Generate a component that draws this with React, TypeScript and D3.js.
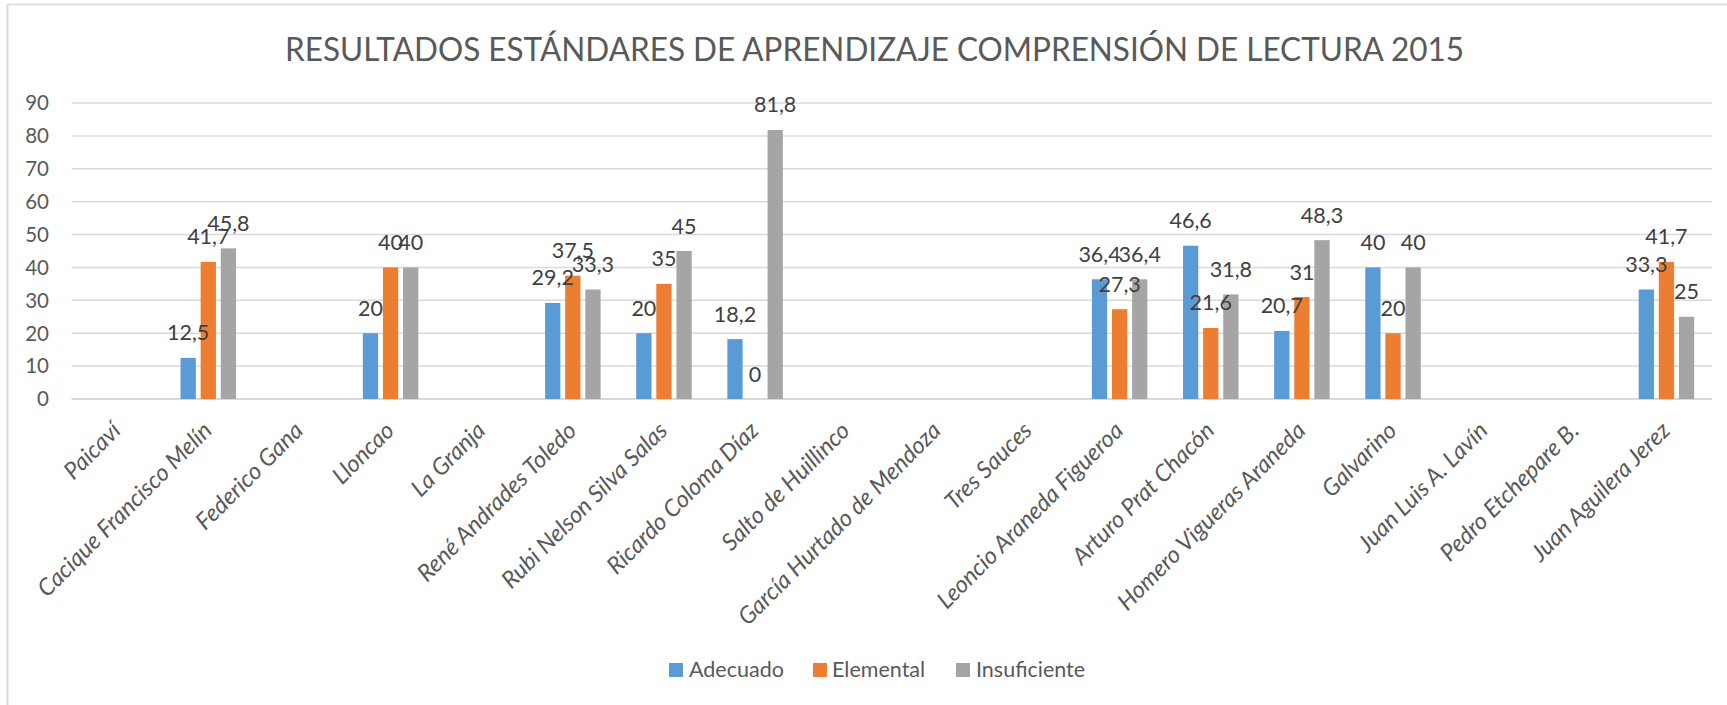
import React from "react";
import * as d3 from "d3";

const categories = [
  "Paicaví",
  "Cacique Francisco Melín",
  "Federico Gana",
  "Lloncao",
  "La Granja",
  "René Andrades Toledo",
  "Rubi Nelson Silva Salas",
  "Ricardo Coloma Díaz",
  "Salto de Huillinco",
  "García Hurtado de Mendoza",
  "Tres Sauces",
  "Leoncio Araneda Figueroa",
  "Arturo Prat Chacón",
  "Homero Vigueras Araneda",
  "Galvarino",
  "Juan Luis A. Lavín",
  "Pedro Etchepare B.",
  "Juan Aguilera Jerez",
];

const seriesNames = ["Adecuado", "Elemental", "Insuficiente"];
const adecuado = [null, 12.5, null, 20, null, 29.2, 20, 18.2, null, null, null, 36.4, 46.6, 20.7, 40, null, null, 33.3];
const elemental = [null, 41.7, null, 40, null, 37.5, 35, 0, null, null, null, 27.3, 21.6, 31, 20, null, null, 41.7];
const insuficiente = [null, 45.8, null, 40, null, 33.3, 45, 81.8, null, null, null, 36.4, 31.8, 48.3, 40, null, null, 25];
const yTicks = [0, 10, 20, 30, 40, 50, 60, 70, 80, 90];
const title = "RESULTADOS ESTÁNDARES DE APRENDIZAJE COMPRENSIÓN DE LECTURA 2015";

const colors = ["#5B9BD5", "#ED7D31", "#A5A5A5"];
const seriesValues = [adecuado, elemental, insuficiente];

const W = 1727;
const H = 705;
const FONT = "Lato, 'Open Sans', 'Liberation Sans', sans-serif";
const TEXT = "#595959";

export default function App() {
  const x = d3.scaleBand<string>().domain(categories).range([71.6, 1712]).paddingInner(0).paddingOuter(0);
  const y = d3.scaleLinear().domain([0, 90]).range([399, 103]);
  const groupW = 55.5;
  const xs = d3
    .scaleBand<string>()
    .domain(seriesNames)
    .range([-groupW / 2, groupW / 2])
    .paddingInner(0.24)
    .paddingOuter(0);
  const fmt = (v: number) => String(v).replace(".", ",");

  const legendItems = [
    { name: seriesNames[0], sx: 669, tx: 689 },
    { name: seriesNames[1], sx: 813, tx: 832 },
    { name: seriesNames[2], sx: 956, tx: 976 },
  ];

  return (
    <svg
      width={W}
      height={H}
      style={{ position: "fixed", left: 0, top: 0, background: "#fff" }}
      fontFamily={FONT}
    >
      <rect x={0} y={0} width={W} height={H} fill="#fff" />
      {/* chart border (top + left visible) */}
      <line x1={7.5} x2={W} y1={4.5} y2={4.5} stroke="#D9D9D9" strokeWidth={1.5} />
      <line x1={7.5} x2={7.5} y1={4.5} y2={H} stroke="#D9D9D9" strokeWidth={2} />

      <text
        x={874.5}
        y={61}
        textAnchor="middle"
        fontSize={33}
        fill={TEXT}
        textLength={1179}
        lengthAdjust="spacingAndGlyphs"
      >
        {title}
      </text>

      {/* gridlines */}
      {yTicks.map((t) => (
        <line key={t} x1={71.6} x2={1712} y1={y(t)} y2={y(t)} stroke="#D9D9D9" strokeWidth={t === 0 ? 2 : 1.5} />
      ))}
      {/* y tick labels */}
      {yTicks.map((t) => (
        <text key={"yl" + t} x={49} y={y(t)} dy="0.36em" textAnchor="end" fontSize={20.5} fill={TEXT}>
          {t}
        </text>
      ))}

      {/* bars */}
      {seriesValues.map((vals, si) =>
        vals.map((v, ci) => {
          if (v === null) return null;
          const cx = (x(categories[ci]) as number) + x.bandwidth() / 2;
          const bx = cx + (xs(seriesNames[si]) as number);
          return (
            <rect
              key={si + "-" + ci}
              x={bx}
              y={y(v as number)}
              width={xs.bandwidth()}
              height={y(0) - y(v as number)}
              fill={colors[si]}
            />
          );
        })
      )}

      {/* data labels */}
      {seriesValues.map((vals, si) =>
        vals.map((v, ci) => {
          if (v === null) return null;
          const cx = (x(categories[ci]) as number) + x.bandwidth() / 2;
          const bx = cx + (xs(seriesNames[si]) as number) + xs.bandwidth() / 2;
          return (
            <text
              key={"dl" + si + "-" + ci}
              x={bx}
              y={y(v as number) - 17.5}
              textAnchor="middle"
              fontSize={21.5}
              fill="#404040"
            >
              {fmt(v as number)}
            </text>
          );
        })
      )}

      {/* category labels */}
      {categories.map((c) => {
        const cx = (x(c) as number) + x.bandwidth() / 2;
        return (
          <text
            key={"cl" + c}
            transform={`translate(${cx + 5},${432}) rotate(-45)`}
            textAnchor="end"
            fontSize={23.5}
            fontStyle="italic"
            fill={TEXT}
          >
            {c}
          </text>
        );
      })}

      {/* legend */}
      {legendItems.map((l, i) => (
        <g key={"lg" + i}>
          <rect x={l.sx} y={663} width={14} height={14} fill={colors[i]} />
          <text x={l.tx} y={676.5} fontSize={21.5} fill={TEXT}>
            {l.name}
          </text>
        </g>
      ))}
    </svg>
  );
}
